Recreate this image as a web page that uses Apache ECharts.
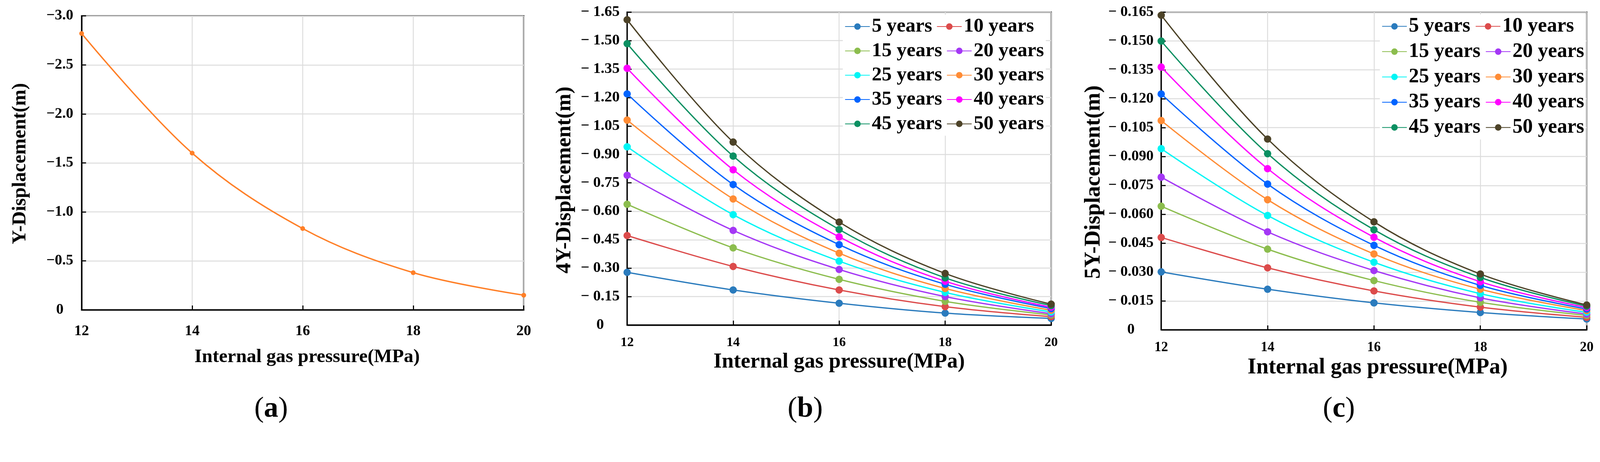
<!DOCTYPE html>
<html><head><meta charset="utf-8">
<script src="https://cdn.jsdelivr.net/npm/echarts@6/dist/echarts.min.js"></script>
<style>html,body{margin:0;padding:0;background:#fff;overflow:hidden}#c{width:100vw;height:100vh}</style>
</head><body><div id="c"></div>
<script>
// ---- data ----
const pressures = [12, 14, 16, 18, 20];
const xTicks = [12, 14, 16, 18, 20];
const yDispA = [-2.82, -1.60, -0.83, -0.38, -0.15];
const yearNames = ['5 years','10 years','15 years','20 years','25 years','30 years','35 years','40 years','45 years','50 years'];
// 4Y displacement (m)
const b05 = [-0.278, -0.185, -0.115, -0.063, -0.035];
const b10 = [-0.472, -0.309, -0.185, -0.097, -0.044];
const b15 = [-0.637, -0.407, -0.241, -0.125, -0.053];
const b20 = [-0.790, -0.499, -0.293, -0.150, -0.060];
const b25 = [-0.940, -0.582, -0.337, -0.172, -0.069];
const b30 = [-1.081, -0.665, -0.379, -0.193, -0.078];
const b35 = [-1.219, -0.741, -0.424, -0.215, -0.087];
const b40 = [-1.354, -0.819, -0.465, -0.231, -0.094];
const b45 = [-1.484, -0.891, -0.504, -0.249, -0.103];
const b50 = [-1.610, -0.965, -0.543, -0.272, -0.110];
// 5Y displacement (m)
const c05 = [-0.0301, -0.0211, -0.0140, -0.0090, -0.0056];
const c10 = [-0.0480, -0.0322, -0.0202, -0.0118, -0.0065];
const c15 = [-0.0642, -0.0419, -0.0256, -0.0143, -0.0075];
const c20 = [-0.0793, -0.0509, -0.0308, -0.0166, -0.0082];
const c25 = [-0.0941, -0.0594, -0.0351, -0.0188, -0.0091];
const c30 = [-0.1087, -0.0676, -0.0394, -0.0211, -0.0100];
const c35 = [-0.1225, -0.0757, -0.0439, -0.0231, -0.0108];
const c40 = [-0.1365, -0.0837, -0.0481, -0.0250, -0.0116];
const c45 = [-0.1500, -0.0915, -0.0520, -0.0272, -0.0123];
const c50 = [-0.1634, -0.0991, -0.0561, -0.0290, -0.0129];
const seriesB = [b05,b10,b15,b20,b25,b30,b35,b40,b45,b50];
const seriesC = [c05,c10,c15,c20,c25,c30,c35,c40,c45,c50];

// ---- styles ----
const palette = ['#2a7bbd','#dc4b4b','#8cbd4e','#a437f5','#00f5f5','#ff8c35','#0064ff','#ff00ff','#0b9062','#4d4328'];
const FF = 'Liberation Serif';
// layout is designed on a 4332px-wide canvas; scale to the actual viewport
const S = (window.innerWidth || 4332) / 4332;
const px = v => v * S;

function pair(arr){ return pressures.map((p,i)=>[p, arr[i]]); }
function fmt(dec, sp){
  return v => Math.abs(v) < 1e-9 ? '0' : '\u2212' + sp + Math.abs(v).toFixed(dec);
}
function xAxis(idx, fs, margin, nameGap, nameFs, shift){
  return {
    type:'value', gridIndex: idx, min: 12, max: 20, interval: 2,
    name:'Internal gas pressure(MPa)', nameLocation:'middle', nameGap: px(nameGap),
    nameTextStyle:{fontFamily:FF, fontWeight:'bold', fontSize:px(nameFs), color:'#000', padding:[0,0,0,px(shift)]},
    axisLine:{show:true, onZero:false, lineStyle:{color:'#000', width:px(3.5)}},
    axisTick:{show:true, inside:true, length:px(12), lineStyle:{color:'#000', width:px(3)}},
    axisLabel:{fontFamily:FF, fontWeight:'bold', fontSize:px(fs), color:'#000', margin: px(margin),
      formatter: v => xTicks.includes(v) ? String(v) : ''},
    splitLine:{show:true, lineStyle:{color:'#dcdcdc', width:px(2.5)}}
  };
}
function yAxis(idx, min, interval, formatter, fs, margin, name, nameGap, nameFs, downShift){
  return {
    type:'value', gridIndex: idx, inverse:true, min: min, max: 0, interval: interval,
    name: name, nameLocation:'middle', nameGap: px(nameGap),
    nameTextStyle:{fontFamily:FF, fontWeight:'bold', fontSize:px(nameFs), color:'#000', padding:[0, px(downShift*2), 0, 0]},
    axisLine:{show:true, onZero:false, lineStyle:{color:'#000', width:px(3.5)}},
    axisTick:{show:true, inside:true, length:px(12), lineStyle:{color:'#000', width:px(3)}},
    axisLabel:{fontFamily:FF, fontWeight:'bold', fontSize:px(fs), color:'#000', margin: px(margin), align:'center', formatter: formatter},
    splitLine:{show:true, lineStyle:{color:'#dcdcdc', width:px(2.5)}}
  };
}
function legend(left, top, fs, gap, textW){
  return {
    data: yearNames, left: px(left), top: px(top), orient:'horizontal', width: px(2*(67+5+textW)+gap+30),
    itemWidth: px(67), itemHeight: px(22), itemGap: px(gap), padding: px(5),
    backgroundColor:'#fff', selectedMode:false,
    textStyle:{fontFamily:FF, fontWeight:'bold', fontSize:px(fs), color:'#000', width:px(textW), overflow:'none'}
  };
}

const series = [];
series.push({type:'line', name:'Y-Displacement', xAxisIndex:0, yAxisIndex:0, data: pair(yDispA),
  smooth:0.35, symbol:'circle', symbolSize:px(13), lineStyle:{width:px(3.8), color:'#ff7f27'}, itemStyle:{color:'#ff7f27'}});
seriesB.forEach((arr,i)=>series.push({type:'line', name: yearNames[i], xAxisIndex:1, yAxisIndex:1, data: pair(arr),
  smooth:0.35, symbol:'circle', symbolSize:px(20), lineStyle:{width:px(3.5), color:palette[i]}, itemStyle:{color:palette[i]}}));
seriesC.forEach((arr,i)=>series.push({type:'line', name: yearNames[i], xAxisIndex:2, yAxisIndex:2, data: pair(arr),
  smooth:0.35, symbol:'circle', symbolSize:px(20), lineStyle:{width:px(3.5), color:palette[i]}, itemStyle:{color:palette[i]}}));

function panelTitle(letter, left){
  return {text:'{p|(}{b|'+letter+'}{p|)}', left: px(left), top: px(1070), textAlign:'center', padding:0,
    textStyle:{rich:{p:{fontFamily:FF, fontSize:px(78), fontWeight:'normal', color:'#000'},
                     b:{fontFamily:FF, fontSize:px(78), fontWeight:'bold', color:'#000'}}}};
}
function grid(l, t, w, h){
  return {left:px(l), top:px(t), width:px(w), height:px(h), show:true, borderColor:'#000', borderWidth:px(3.5), containLabel:false};
}

const option = {
  animation:false,
  backgroundColor:'#fff',
  textStyle:{fontFamily:FF},
  title:[panelTitle('a', 734), panelTitle('b', 2180), panelTitle('c', 3625)],
  grid:[grid(221, 43, 1197, 797), grid(1698, 33, 1148, 848), grid(3144, 33, 1152, 861)],
  xAxis:[
    xAxis(0, 40, 38, 102, 52, 24),
    xAxis(1, 36, 30, 66, 58, 0),
    xAxis(2, 37, 30, 65, 60, 20)
  ],
  yAxis:[
    yAxis(0, -3, 0.5, fmt(1,''), 40, 59, 'Y-Displacement(m)', 140, 53, 2),
    yAxis(1, -1.65, 0.15, fmt(2,' '), 41, 73, '4Y-Displacement(m)', 140, 58, 31),
    yAxis(2, -0.165, 0.015, fmt(3,' '), 40, 82, '5Y-Displacement(m)', 152, 60, 30)
  ],
  legend:[
    legend(2282, 40, 54, 12, 199),
    legend(3736, 39, 55, 13.5, 198.5)
  ],
  series: series
};
const chart = echarts.init(document.getElementById('c'), null, {renderer:'canvas'});
chart.setOption(option);
</script>
</body></html>
